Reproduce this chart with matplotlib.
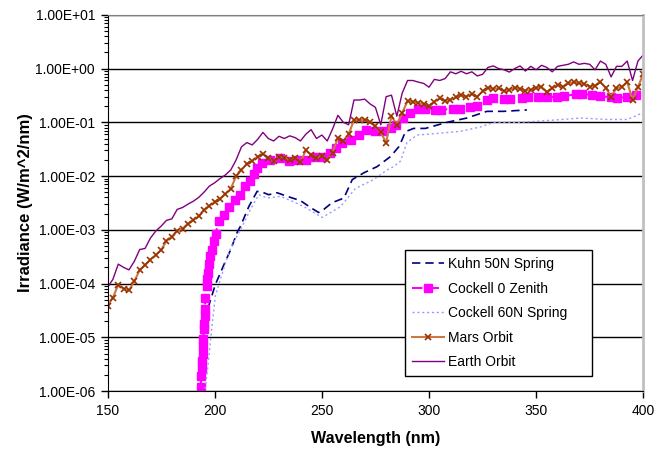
import numpy as np
import matplotlib
matplotlib.use("Agg")
from matplotlib import pyplot as plt
from matplotlib.ticker import FuncFormatter, LogLocator, NullFormatter

plt.rcParams['font.family'] = ['Liberation Sans', 'DejaVu Sans']

# длины волн (нм) для орбитальных спектров
wl = [150 + 2.5 * i for i in range(101)]

earth = [8.5e-5, 1.2e-4, 2.3e-4, 2.0e-4, 1.8e-4, 2.6e-4, 4.3e-4, 4.5e-4, 7e-4, 9.5e-4,
         1.17e-3, 1.5e-3, 1.6e-3, 2.4e-3, 2.6e-3, 3.0e-3, 3.4e-3, 4.0e-3, 5.0e-3, 6.5e-3,
         7.5e-3, 9.0e-3, 1.05e-2, 1.3e-2, 2.0e-2, 3.5e-2, 4.2e-2, 3.8e-2, 4.8e-2, 6.5e-2,
         5.0e-2, 4.5e-2, 5.5e-2, 5.0e-2, 5.6e-2, 5.2e-2, 4.5e-2, 6.0e-2, 7.3e-2, 5.0e-2,
         5.8e-2, 4.5e-2, 7.5e-2, 1.35e-1, 1.0e-1, 9.0e-2, 2.6e-1, 2.6e-1, 2.7e-1, 2.2e-1,
         1.9e-1, 9.0e-2, 3.0e-1, 3.2e-1, 1.3e-1, 3.5e-1, 6.0e-1, 6.0e-1, 5.6e-1, 5.3e-1,
         4.5e-1, 6.3e-1, 6.0e-1, 6.5e-1, 8.7e-1, 8.0e-1, 8.9e-1, 8.0e-1, 8.7e-1, 7.3e-1,
         7.8e-1, 1.05, 1.12, 1.0, 0.95, 0.86, 1.0, 1.12, 0.9, 1.1,
         0.95, 1.15, 1.05, 0.87, 1.1, 1.15, 1.2, 1.33, 1.2, 1.25,
         1.2, 0.95, 1.38, 1.2, 0.7, 1.1, 1.1, 1.38, 0.6, 1.38, 1.8]

mars = [3.8e-5, 5.5e-5, 9.5e-5, 8e-5, 7.5e-5, 1.1e-4, 1.8e-4, 2.2e-4, 2.8e-4, 3.4e-4,
        4.2e-4, 6.2e-4, 7.5e-4, 9.5e-4, 1.05e-3, 1.3e-3, 1.5e-3, 1.8e-3, 2.3e-3, 2.8e-3,
        3.3e-3, 3.8e-3, 4.6e-3, 5.8e-3, 1.0e-2, 1.3e-2, 1.7e-2, 1.9e-2, 2.3e-2, 2.6e-2,
        2.2e-2, 1.9e-2, 2.3e-2, 2.2e-2, 2.0e-2, 2.2e-2, 1.8e-2, 3.0e-2, 2.5e-2, 2.2e-2,
        2.4e-2, 2.0e-2, 2.7e-2, 5.2e-2, 4.5e-2, 6.0e-2, 1.1e-1, 1.1e-1, 1.12e-1, 1.0e-1,
        8.5e-2, 6.5e-2, 4.2e-2, 1.3e-1, 9.0e-2, 1.5e-1, 2.5e-1, 2.4e-1, 2.3e-1, 2.2e-1,
        2.0e-1, 2.4e-1, 2.8e-1, 2.5e-1, 2.6e-1, 2.9e-1, 3.2e-1, 3.0e-1, 3.4e-1, 3.0e-1,
        3.8e-1, 4.4e-1, 4.2e-1, 4.3e-1, 3.8e-1, 4.0e-1, 4.4e-1, 4.2e-1, 3.9e-1, 4.0e-1,
        4.4e-1, 4.6e-1, 3.6e-1, 4.3e-1, 5.0e-1, 4.6e-1, 5.3e-1, 5.6e-1, 5.3e-1, 5.2e-1,
        4.6e-1, 4.8e-1, 5.6e-1, 4.4e-1, 3.0e-1, 4.3e-1, 4.6e-1, 5.6e-1, 2.6e-1, 4.5e-1, 8.0e-1]

# Cockell 0 Zenith
cz_wl = [193.4, 193.8, 194.1, 194.2, 194.6, 194.6, 194.7, 194.9, 195.2, 195.3,
         195.3, 195.7, 196.2, 196.5, 196.8, 197.3, 198.0, 198.8, 199.6, 200.4,
         201.8, 204.2, 206.5, 209.6, 212.0, 214.3, 216.4, 218.2, 219.8, 222.2,
         226.0, 230.7, 234.6, 238.5, 242.4, 246.3, 250.2, 254.0, 256.4, 259.5,
         263.4, 267.3, 270.4, 275.0, 278.7, 282.4, 284.7, 287.8, 291.0, 294.9,
         298.0, 302.7, 305.8, 311.0, 314.6, 319.3, 322.4, 327.0, 330.0, 334.8,
         337.9, 343.3, 346.4, 351.0, 355.0, 359.8, 362.8, 368.4, 371.5, 376.2,
         380.0, 384.8, 387.8, 392.5, 396.4]
cz = [1.17e-6, 1.92e-6, 2.56e-6, 3.65e-6, 4.86e-6, 6.9e-6, 9.2e-6, 1.41e-5, 1.75e-5, 2.5e-5,
      3.3e-5, 5.5e-5, 9.0e-5, 1.2e-4, 1.6e-4, 2.3e-4, 3.2e-4, 4.3e-4, 6.1e-4, 8.2e-4,
      1.45e-3, 1.9e-3, 2.7e-3, 3.6e-3, 4.5e-3, 6.4e-3, 8e-3, 1.1e-2, 1.4e-2, 1.75e-2,
      2e-2, 2.2e-2, 1.9e-2, 2e-2, 2e-2, 2.3e-2, 2.3e-2, 2.7e-2, 3.3e-2, 4.2e-2,
      4.7e-2, 5.8e-2, 7.2e-2, 6.8e-2, 7.0e-2, 7.7e-2, 8.8e-2, 0.12, 0.15, 0.18,
      0.18, 0.17, 0.17, 0.18, 0.18, 0.19, 0.2, 0.26, 0.28, 0.27,
      0.27, 0.28, 0.3, 0.3, 0.29, 0.3, 0.31, 0.33, 0.34, 0.32,
      0.31, 0.29, 0.28, 0.3, 0.32]

# Kuhn 50N Spring
kuhn_wl = [196.9, 200.3, 205.0, 207.5, 210.5, 212.0, 215.9, 219.8, 222.9, 225.2,
           229.1, 233.8, 240.0, 244.7, 248.5, 250.9, 254.8, 260.3, 264.2, 269.6,
           275.8, 282.0, 285.9, 287.4, 289.0, 292.8, 298.3, 308.4, 317.6, 327.0,
           334.8, 345.7]
kuhn = [3.5e-5, 9.6e-5, 2.6e-4, 4.3e-4, 9e-4, 1.16e-3, 2.7e-3, 5.2e-3, 4.9e-3, 4.5e-3,
        4.9e-3, 4.2e-3, 3.5e-3, 2.6e-3, 2.1e-3, 2.4e-3, 3.2e-3, 3.9e-3, 8.6e-3, 1.15e-2,
        1.5e-2, 2.3e-2, 3.5e-2, 4.7e-2, 6.7e-2, 7.7e-2, 7.7e-2, 0.1, 0.12, 0.16,
        0.16, 0.17]

# Cockell 60N Spring
c60_wl = [195.6, 197.2, 198.7, 200.3, 205.0, 207.4, 212.0, 216.7, 220.6, 224.5,
          230.7, 236.2, 241.6, 247.1, 250.2, 254.1, 258.7, 265.7, 274.2, 280.4,
          283.5, 286.7, 289.7, 294.4, 303.7, 314.6, 324.0, 330.3, 342.6, 358.2,
          370.9, 383.3, 392.6, 399.7]
c60 = [1.1e-6, 3.9e-6, 1.6e-5, 5.9e-5, 2.4e-4, 4.6e-4, 1e-3, 2.4e-3, 4.5e-3, 3.9e-3,
       4.2e-3, 3.4e-3, 2.7e-3, 2e-3, 1.7e-3, 2.1e-3, 2.7e-3, 5.9e-3, 8.6e-3, 1.3e-2,
       1.5e-2, 1.9e-2, 4.2e-2, 5.8e-2, 6.2e-2, 6.8e-2, 8.2e-2, 0.1, 0.1, 0.11,
       0.12, 0.113, 0.113, 0.15]

fig = plt.figure(figsize=(6.68, 4.49), dpi=100)
ax = fig.add_axes([0.161, 0.129, 0.802, 0.838])

ax.plot(kuhn_wl, kuhn, color='#000080', lw=1.2, ls=(0, (5, 3)), label='Kuhn 50N Spring')
ax.plot(cz_wl, cz, color='#FF00FF', lw=1.5, ls=(0, (5, 3)), marker='s', ms=5.5,
        mec='#FF00FF', mfc='#FF00FF', label='Cockell 0 Zenith')
ax.plot(c60_wl, c60, color='#9999FF', lw=1.0, ls=(0, (1.5, 2)), label='Cockell 60N Spring')
ax.plot(wl, mars, color='#CC7744', lw=1.5, marker='x', ms=5, mec='#993300', mew=1.2,
        label='Mars Orbit')
ax.plot(wl, earth, color='#800080', lw=1.0, label='Earth Orbit')

ax.set_yscale('log')
ax.set_xlim(150, 400)
ax.set_ylim(1e-6, 10)
ax.set_xticks([150, 200, 250, 300, 350, 400])
ax.yaxis.set_major_locator(LogLocator(base=10, numticks=10))
ax.yaxis.set_minor_locator(LogLocator(base=10, subs=np.arange(2, 10), numticks=100))
ax.yaxis.set_minor_formatter(NullFormatter())
ax.yaxis.set_major_formatter(FuncFormatter(lambda v, p: f"{v:.2E}"))
ax.tick_params(axis='both', which='major', direction='out', length=5, width=1, labelsize=10, pad=4)
ax.tick_params(axis='y', which='minor', direction='out', length=3, width=0.8)
ax.grid(True, which='major', axis='y', color='black', lw=1)
ax.set_axisbelow(True)

for s in ['left', 'bottom']:
    ax.spines[s].set_color('black')
ax.spines['top'].set_color('#808080')
ax.spines['right'].set_color('#C0C0C0')
ax.spines['right'].set_linewidth(2)

ax.set_xlabel('Wavelength (nm)', fontsize=11.6, fontweight='bold', labelpad=10)
ax.set_ylabel('Irradiance (W/m^2/nm)', fontsize=12, fontweight='bold', labelpad=2)

leg = ax.legend(loc='upper left', bbox_to_anchor=(0.5555, 0.0, 0.348, 0.374), mode='expand',
                fontsize=10, handlelength=2.3, handletextpad=0.25, labelspacing=0.75,
                fancybox=False, framealpha=1, edgecolor='black', borderpad=0.5,
                borderaxespad=0)
leg.get_frame().set_linewidth(1)

fig.savefig('out.png', dpi=100)
